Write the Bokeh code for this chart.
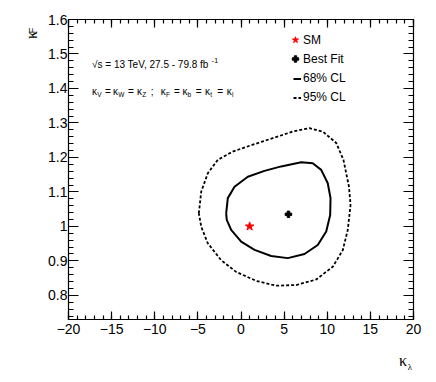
import numpy as np
from bokeh.plotting import figure
from bokeh.models import Range1d, FixedTicker, LinearAxis, Label, Legend, LegendItem
from bokeh.embed import file_html
from bokeh.resources import INLINE

# ---------------- data ----------------
sm_kl = [1.0]
sm_kf = [1.0]
bf_kl = [5.5]
bf_kf = [1.035]

cl68_kl = [-1.72, -1.53, -0.75, 0.79, 2.72, 4.66, 6.98, 8.32, 9.30, 10.06, 10.38,
           10.34, 9.88, 8.90, 7.36, 5.43, 3.50, 1.57, 0.02, -1.14, -1.65]
cl68_kf = [1.038, 1.082, 1.115, 1.144, 1.161, 1.174, 1.186, 1.183, 1.164, 1.125, 1.082,
           1.033, 0.985, 0.946, 0.920, 0.908, 0.914, 0.932, 0.956, 0.990, 1.019]

cl95_kl = [-4.89, -4.61, -3.85, -2.69, -0.95, 1.37, 3.69, 6.00, 7.94, 9.48, 11.04, 11.88,
           12.52, 12.70, 12.38, 11.80, 10.64, 8.72, 6.40, 4.08, 1.76, -0.56, -2.30, -3.85, -4.61]
cl95_kf = [1.038, 1.101, 1.154, 1.193, 1.217, 1.237, 1.256, 1.275, 1.285, 1.275, 1.242, 1.193,
           1.115, 1.062, 0.990, 0.931, 0.883, 0.846, 0.830, 0.828, 0.842, 0.868, 0.902, 0.951, 0.999]

x_ticks = [-20, -15, -10, -5, 0, 5, 10, 15, 20]
x_tick_labels = ["\u221220", "\u221215", "\u221210", "\u22125", "0", "5", "10", "15", "20"]
y_ticks = [0.8, 0.9, 1.0, 1.1, 1.2, 1.3, 1.4, 1.5, 1.6]
y_tick_labels = ["0.8", "0.9", "1", "1.1", "1.2", "1.3", "1.4", "1.5", "1.6"]

# ---------------- figure ----------------
FONT = "Liberation Sans"
SERIF = "Liberation Serif"
p = figure(width=434, height=380, output_backend="svg", toolbar_location=None,
           x_range=Range1d(-20, 20), y_range=Range1d(0.73, 1.6),
           min_border_left=68, min_border_right=21, min_border_top=19, min_border_bottom=61)
p.xgrid.visible = False
p.ygrid.visible = False
p.outline_line_color = None
p.background_fill_color = "white"
p.border_fill_color = "white"

x_minor = list(range(-20, 21))
y_minor = [round(0.74 + 0.02 * i, 2) for i in range(44)]


def style_axis(ax, ticks, minor, labels, show, tin, mtin):
    ax.ticker = FixedTicker(ticks=ticks, minor_ticks=minor)
    ax.major_tick_in = tin
    ax.major_tick_out = 0
    ax.minor_tick_in = mtin
    ax.minor_tick_out = 0
    ax.axis_line_color = "black"
    ax.axis_line_width = 1.2
    ax.major_tick_line_color = "black"
    ax.minor_tick_line_color = "black"
    ax.major_tick_line_width = 1.2
    ax.minor_tick_line_width = 1.2
    if show:
        ax.major_label_overrides = {t: l for t, l in zip(ticks, labels)}
        ax.major_label_text_font = FONT
        ax.major_label_text_font_size = "14px"
        ax.major_label_text_color = "black"
    else:
        ax.major_label_overrides = {t: "" for t in ticks}
        ax.major_label_text_font_size = "0px"
        ax.major_label_standoff = 0


style_axis(p.xaxis[0], x_ticks, x_minor, x_tick_labels, True, 8, 4)
p.xaxis[0].major_label_standoff = 4
style_axis(p.yaxis[0], y_ticks, y_minor, y_tick_labels, True, 10, 5)
p.yaxis[0].major_label_standoff = 1

top = LinearAxis()
style_axis(top, x_ticks, x_minor, x_tick_labels, False, 8, 4)
p.add_layout(top, "above")
right = LinearAxis()
style_axis(right, y_ticks, y_minor, y_tick_labels, False, 10, 5)
p.add_layout(right, "right")


# axis titles: bare axes carrying a single label (texts outside the frame)
def title_axis(side, at, text, size, font, standoff, orientation="horizontal"):
    ax = LinearAxis(ticker=FixedTicker(ticks=[at], minor_ticks=[]),
                    major_label_overrides={at: text},
                    axis_line_color=None, major_tick_line_color=None,
                    minor_tick_line_color=None, major_tick_in=0, major_tick_out=0,
                    minor_tick_in=0, minor_tick_out=0, major_label_standoff=standoff,
                    major_label_text_font=font, major_label_text_font_size=size,
                    major_label_text_color="black", major_label_orientation=orientation)
    p.add_layout(ax, side)


title_axis("below", 18.78, "\u03ba", "16px", SERIF, 15)
title_axis("below", 19.59, "\u03bb", "9px", SERIF, -10)
title_axis("left", 1.5680, "F", "9px", FONT, 8, "vertical")
title_axis("left", 1.5549, "\u03ba", "16px", SERIF, -16, "vertical")

# ---------------- contours & points ----------------
r95 = p.line(cl95_kl + cl95_kl[:1], cl95_kf + cl95_kf[:1], line_color="black",
             line_width=1.8, line_dash="3 2", line_join="round")
r68 = p.line(cl68_kl + cl68_kl[:1], cl68_kf + cl68_kf[:1], line_color="black",
             line_width=2, line_join="round")
rsm = p.scatter(sm_kl, sm_kf, marker="star", size=9, fill_color="red", line_color="red")
rbf = p.scatter(bf_kl, bf_kf, marker="plus", size=6.5, fill_color="black", line_color="black")

common = dict(orientation="vertical", glyph_height=19, label_height=19, spacing=0,
              padding=0, margin=0, border_line_color=None, background_fill_alpha=0,
              label_text_font=FONT, label_text_font_size="12px", label_text_color="black")
leg_markers = Legend(items=[LegendItem(label="SM", renderers=[rsm]),
                            LegendItem(label="Best Fit", renderers=[rbf])],
                     location=(219, 250.8), glyph_width=16, label_standoff=0, **common)
leg_lines = Legend(items=[LegendItem(label="68% CL", renderers=[r68]),
                          LegendItem(label="95% CL", renderers=[r95])],
                   location=(225, 212.2), glyph_width=8, label_standoff=2, **common)
p.add_layout(leg_markers)
p.add_layout(leg_lines)


# ---------------- text inside the frame ----------------
def dx(px):
    return -20 + (px - 69) / 8.625


def dy(py):
    return 1.6 - (py - 20) / 344.0


def add_text(t, px, py, size, font=FONT):
    p.add_layout(Label(x=dx(px), y=dy(py), text=t, text_font=font, text_font_size=size,
                       text_color="black", text_align="left", text_baseline="alphabetic"))


add_text("\u221as = 13 TeV, 27.5 - 79.8 fb", 92.5, 65.3, "10px")
add_text("-1", 212.3, 60.5, "7px")

line2 = [("\u03ba", 92.6, False), ("V", 97.8, True), ("=", 105.5, False),
         ("\u03ba", 113.6, False), ("W", 118.8, True), ("=", 128.5, False),
         ("\u03ba", 137.6, False), ("Z", 142.8, True), (";", 151.2, False),
         ("\u03ba", 161.3, False), ("F", 166.5, True), ("=", 174.5, False),
         ("\u03ba", 182.9, False), ("b", 188.0, True), ("=", 196.2, False),
         ("\u03ba", 205.6, False), ("t", 210.8, True), ("=", 217.8, False),
         ("\u03ba", 227.3, False), ("l", 232.5, True)]
for t, px, sub in line2:
    if sub:
        add_text(t, px, 94.5, "6.5px")
    else:
        add_text(t, px, 92.3, "10px")

open("out.html", "w").write(file_html(p, INLINE))
